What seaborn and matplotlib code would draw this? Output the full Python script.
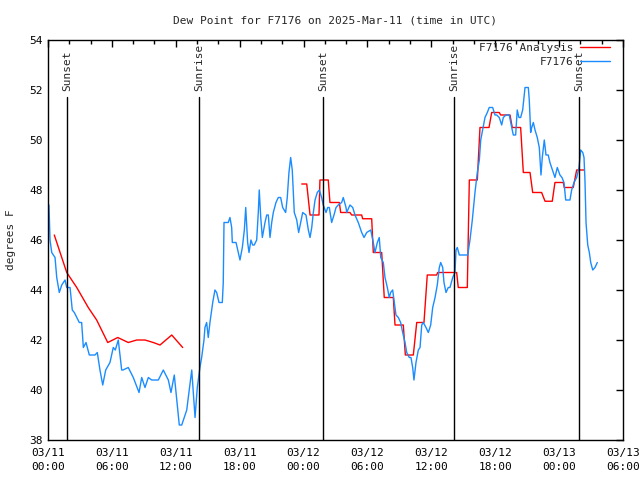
import numpy as np
import pandas as pd
import matplotlib
matplotlib.use('Agg')
import matplotlib.pyplot as plt
import matplotlib.dates as mdates
import seaborn as sns

sns.set_style('white')
plt.rcParams['font.family'] = ['DejaVu Sans Mono']

start = pd.Timestamp('2025-03-11 00:00')

# observed dew point (hours since 03/11 00:00 UTC, deg F)
obs_hours = [0.09, 0.19, 0.35, 0.66, 0.82, 1.06, 1.29, 1.60, 1.76, 2.07, 2.28, 2.47, 2.70, 2.94, 3.16,
             3.32, 3.57, 3.88, 4.41, 4.63, 4.88, 5.14, 5.42, 5.82, 6.13, 6.32, 6.60, 6.92, 7.04, 7.54,
             8.01, 8.55, 8.80, 9.11, 9.42, 9.74, 10.36, 10.83, 11.30, 11.55, 11.86, 12.09, 12.33, 12.56,
             13.03, 13.50, 13.81, 14.02, 14.27, 14.43, 14.65, 14.74, 14.90, 15.05, 15.21, 15.47, 15.68,
             15.84, 16.06, 16.37, 16.46, 16.53, 16.93, 17.09, 17.25, 17.31, 17.66, 17.82, 18.03, 18.25,
             18.44, 18.57, 18.75, 18.88, 19.06, 19.22, 19.37, 19.60, 19.75, 19.84, 19.98, 20.13, 20.38,
             20.54, 20.69, 20.85, 21.01, 21.16, 21.41, 21.63, 21.85, 22.04, 22.32, 22.47, 22.63, 22.79,
             22.94, 23.13, 23.36, 23.54, 23.73, 23.92, 24.23, 24.45, 24.61, 24.77, 24.92, 25.08, 25.29,
             25.48, 25.70, 25.85, 26.11, 26.27, 26.42, 26.64, 26.86, 27.05, 27.26, 27.58, 27.73, 27.99,
             28.05, 28.36, 28.62, 28.83, 29.14, 29.46, 29.68, 29.93, 30.31, 30.55, 30.71, 30.93, 31.11,
             31.25, 31.49, 31.65, 31.87, 32.05, 32.18, 32.37, 32.49, 32.68, 32.90, 33.12, 33.31, 33.53,
             33.69, 33.93, 34.09, 34.25, 34.37, 34.56, 34.78, 34.94, 35.10, 35.25, 35.50, 35.72, 35.94,
             36.13, 36.35, 36.56, 36.75, 36.88, 37.07, 37.19, 37.38, 37.59, 37.75, 38.01, 38.22, 38.32,
             38.44, 38.63, 39.42, 39.63, 39.85, 40.10, 40.32, 40.51, 40.64, 40.82, 41.04, 41.26, 41.44,
             41.76, 41.98, 42.14, 42.38, 42.61, 42.76, 43.01, 43.32, 43.55, 43.70, 43.92, 44.07, 44.23,
             44.39, 44.58, 44.80, 45.11, 45.20, 45.33, 45.43, 45.58, 45.74, 45.95, 46.14, 46.30, 46.42,
             46.61, 46.77, 46.98, 47.14, 47.30, 47.45, 47.61, 47.83, 48.08, 48.27, 48.46, 48.62, 49.02,
             49.18, 49.40, 49.65, 49.87, 50.03, 50.22, 50.34, 50.43, 50.53, 50.69, 50.84, 50.97, 51.16,
             51.37, 51.59]
obs_vals = [47.4, 46.0, 45.5, 45.3, 44.5, 43.9, 44.2, 44.4, 44.1, 44.1, 43.2, 43.1, 42.9, 42.7, 42.7,
            41.7, 41.9, 41.4, 41.4, 41.5, 40.8, 40.2, 40.8, 41.1, 41.7, 41.6, 42.0, 40.8, 40.8, 40.9,
            40.5, 39.9, 40.5, 40.1, 40.5, 40.4, 40.4, 40.8, 40.4, 39.9, 40.6, 39.6, 38.6, 38.6,
            39.2, 40.8, 38.9, 40.1, 40.9, 41.3, 42.0, 42.5, 42.7, 42.1, 42.7, 43.5, 44.0,
            43.9, 43.5, 43.5, 44.3, 46.7, 46.7, 46.9, 46.5, 45.9, 45.9, 45.6, 45.2, 45.7,
            46.4, 47.3, 45.9, 45.5, 46.0, 45.8, 45.8, 46.0, 47.1, 48.0, 46.9, 46.1, 46.7,
            47.0, 47.0, 46.1, 46.7, 47.1, 47.5, 47.7, 47.7, 47.3, 47.1, 47.7, 48.7, 49.3,
            48.8, 47.1, 46.8, 46.3, 46.7, 47.1, 47.0, 46.4, 46.1, 46.5, 47.1, 47.6, 47.9,
            48.0, 47.7, 47.4, 47.1, 47.3, 47.3, 46.7, 47.0, 47.3, 47.4, 47.5, 47.7, 47.3,
            47.1, 47.4, 47.3, 47.0, 46.7, 46.3, 46.1, 46.3, 46.4, 45.9, 45.5, 45.9, 46.1,
            45.3, 45.1, 44.5, 44.1, 43.7, 43.9, 44.0, 43.6, 43.0, 42.9, 42.7, 42.3, 41.9,
            41.5, 41.3, 41.3, 40.9, 40.4, 41.1, 41.6, 41.7, 42.6, 42.7, 42.5, 42.3, 42.6,
            43.3, 43.7, 44.2, 44.9, 45.1, 44.9, 44.3, 43.9, 44.1, 44.1, 44.5, 44.7, 45.6,
            45.7, 45.4, 45.4, 46.0, 46.8, 47.9, 48.7, 49.2, 50.0, 50.4, 50.9, 51.1, 51.3,
            51.3, 51.0, 51.0, 50.9, 50.6, 50.9, 51.0, 51.0, 50.5, 50.2, 50.2, 51.2, 50.9,
            50.9, 51.2, 52.1, 52.1, 51.6, 50.3, 50.5, 50.7, 50.4, 50.1, 49.7, 48.6, 49.3,
            50.0, 49.4, 49.4, 49.1, 48.9, 48.7, 48.5, 48.9, 48.6, 48.5, 48.3, 47.6, 47.6,
            48.0, 48.3, 48.5, 48.9, 49.6, 49.5, 49.3, 48.4, 46.7, 45.8, 45.5, 45.1, 44.8,
            44.9, 45.1]

# analysis, first day (before the gap)
ana1_hours = [0.59, 1.76, 2.70, 3.78, 4.57, 5.61, 6.55, 7.54, 8.33, 9.11, 9.89, 10.52, 11.62, 12.65]
ana1_vals = [46.2, 44.7, 44.1, 43.3, 42.8, 41.9, 42.1, 41.9, 42.0, 42.0, 41.9, 41.8, 42.2, 41.7]

# analysis, after the gap
ana2_hours = [23.83, 24.30, 24.61, 25.45, 25.54, 26.32, 26.48, 27.36, 27.49, 28.36, 28.52, 29.46,
              29.55, 30.40, 30.55, 31.34, 31.58, 32.43, 32.59, 33.37, 33.56, 34.31, 34.63, 35.31,
              35.62, 36.50, 36.60, 38.38, 38.53, 39.38, 39.57, 40.32, 40.57, 41.42, 41.67, 42.38,
              42.51, 43.39, 43.60, 44.39, 44.64, 45.27, 45.52, 46.36, 46.68, 47.36, 47.61, 48.39,
              48.49, 49.33, 49.65, 50.34]
ana2_vals = [48.24, 48.24, 47.0, 47.0, 48.4, 48.4, 47.5, 47.5, 47.1, 47.1, 47.0, 47.0,
             46.85, 46.85, 45.5, 45.5, 43.7, 43.7, 42.6, 42.6, 41.4, 41.4, 42.7, 42.7,
             44.6, 44.6, 44.7, 44.7, 44.1, 44.1, 48.4, 48.4, 50.5, 50.5, 51.1, 51.1,
             51.0, 51.0, 50.5, 50.5, 48.7, 48.7, 47.9, 47.9, 47.55, 47.55, 48.3, 48.3,
             48.1, 48.1, 48.8, 48.8]

sun_hours = [1.78, 14.18, 25.83, 38.13, 49.87]
sun_labels = ['Sunset', 'Sunrise', 'Sunset', 'Sunrise', 'Sunset']


def to_time(hours):
    return start + pd.to_timedelta(np.array(hours), unit='h')


fig = plt.figure(figsize=(6.4, 4.8), dpi=100)
ax = fig.add_axes([0.075, 0.0833, 0.8984, 0.8334])

red = '#ff0000'
blue = '#1a8cff'
sns.lineplot(x=to_time(ana1_hours), y=ana1_vals, ax=ax, color=red, linewidth=1, label='F7176 Analysis')
sns.lineplot(x=to_time(ana2_hours), y=ana2_vals, ax=ax, color=red, linewidth=1)
sns.lineplot(x=to_time(obs_hours), y=obs_vals, ax=ax, color=blue, linewidth=1, label='F7176')

for h, lab in zip(sun_hours, sun_labels):
    t = to_time([h])[0]
    ax.plot([t, t], [38, 51.7], color='black', linewidth=1)
    ax.text(t, 51.95, lab, rotation=90, ha='center', va='bottom', fontsize=8)

ax.set_xlim(start, start + pd.Timedelta(hours=54))
ax.set_ylim(38, 54)
ax.set_yticks(np.arange(38, 55, 2))
ax.xaxis.set_major_locator(mdates.HourLocator(byhour=[0, 6, 12, 18]))
ax.xaxis.set_minor_locator(mdates.HourLocator(interval=2))
ax.xaxis.set_major_formatter(mdates.DateFormatter('%m/%d\n%H:%M'))
ax.tick_params(axis='both', which='both', direction='in', top=True, right=True,
               labelsize=8, colors='black')
ax.tick_params(which='major', length=5, width=1)
ax.tick_params(which='minor', length=3, width=1)
ax.tick_params(axis='x', which='major', pad=6)
for lbl in ax.get_xticklabels():
    lbl.set_linespacing(1.45)
for s in ax.spines.values():
    s.set_color('black')
    s.set_linewidth(1)

ax.set_title('Dew Point for F7176 on 2025-Mar-11 (time in UTC)', fontsize=8, pad=12)
ax.set_ylabel('degrees F', fontsize=8, labelpad=10)
ax.set_xlabel('')

ax.legend(loc='upper right', bbox_to_anchor=(0.986, 1.004), frameon=False, markerfirst=False,
          fontsize=8, handlelength=2.7, borderaxespad=0, labelspacing=0.35, handletextpad=0.6)

fig.savefig('out.png', dpi=100)
